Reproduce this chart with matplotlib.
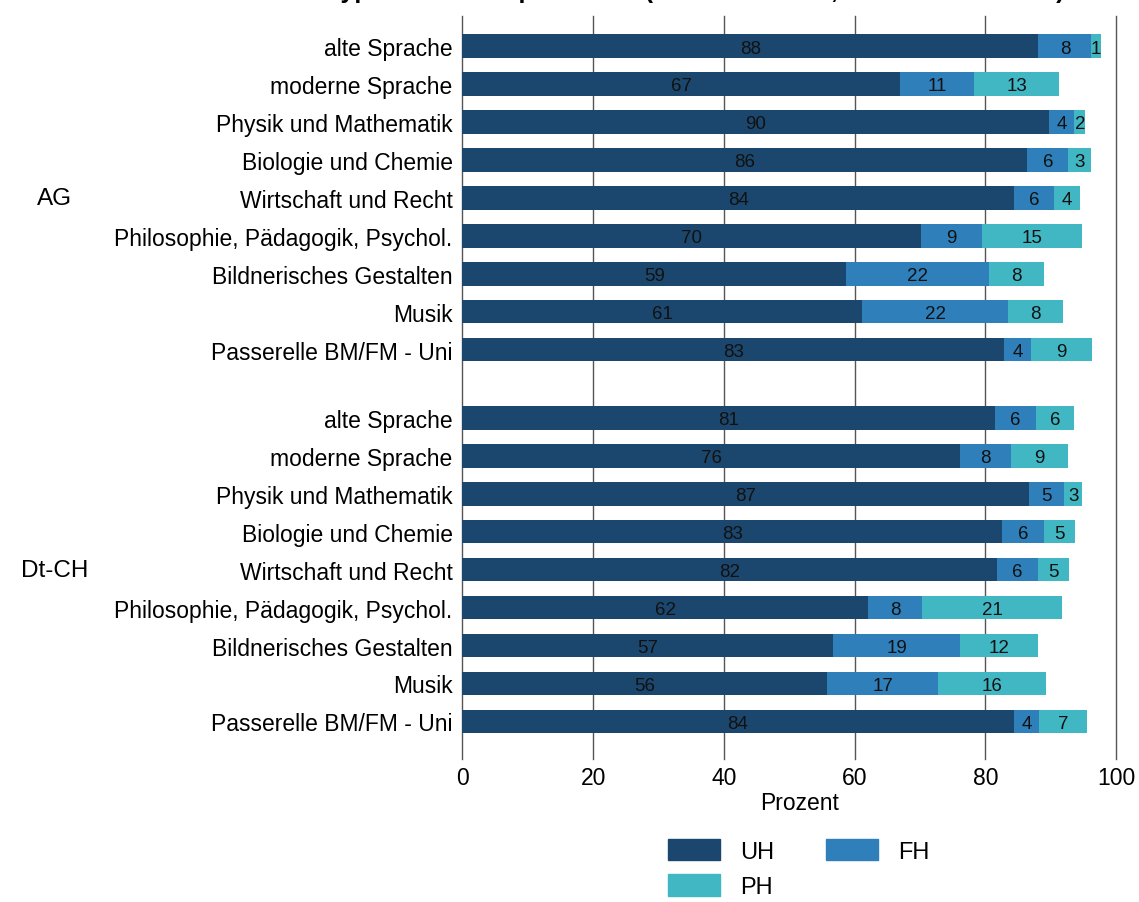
import numpy as np
import matplotlib.pyplot as plt
from matplotlib.patches import Patch

plt.rcParams['font.family'] = ['Liberation Sans', 'DejaVu Sans']

'''------ DATA -----'''
categories = ['alte Sprache', 'moderne Sprache', 'Physik und Mathematik',
              'Biologie und Chemie', 'Wirtschaft und Recht',
              'Philosophie, Pädagogik, Psychol.', 'Bildnerisches Gestalten',
              'Musik', 'Passerelle BM/FM - Uni']
groups = ['AG', 'Dt-CH']
series = ['UH', 'FH', 'PH']

# shares in percent, one list per group (same order as categories)
uh_ag = [88.1, 67.0, 89.7, 86.4, 84.4, 70.1, 58.7, 61.1, 82.9]
fh_ag = [8.1, 11.3, 3.9, 6.3, 6.1, 9.4, 21.8, 22.4, 4.1]
ph_ag = [1.4, 12.9, 1.7, 3.4, 3.9, 15.3, 8.4, 8.4, 9.3]

uh_ch = [81.4, 76.1, 86.7, 82.6, 81.7, 62.0, 56.7, 55.8, 84.3]
fh_ch = [6.4, 7.8, 5.3, 6.4, 6.3, 8.3, 19.4, 17.0, 3.9]
ph_ch = [5.8, 8.8, 2.8, 4.7, 4.8, 21.4, 11.9, 16.4, 7.4]

colors = ['#1b476e', '#2e7fba', '#41b7c4']
title = 'Übertritte nach Hochschultyp und Schwerpunktfach (AG: 2010–2014, Dt-CH: 2010–2014)'

'''------ PLOT -----'''
fig = plt.figure(figsize=(11.39, 9.03), dpi=100)
ax = fig.add_axes([0.406, 0.158, 0.574, 0.823])

n = len(categories)
gap = 0.8
pos = np.concatenate([np.arange(n), np.arange(n) + n + gap])
uh = np.array(uh_ag + uh_ch)
fh = np.array(fh_ag + fh_ch)
ph = np.array(ph_ag + ph_ch)

left = np.zeros(len(pos))
for vals, col in zip([uh, fh, ph], colors):
    bars = ax.barh(pos, vals, left=left, height=0.62, color=col, zorder=2)
    for b, v in zip(bars, vals):
        ax.text(b.get_x() + b.get_width() / 2, b.get_y() + b.get_height() / 2 + 0.05,
                f'{v:.0f}', ha='center', va='center', fontsize=13.5, color='#111111', zorder=3)
    left = left + vals

ax.set_xlim(0, 100)
ax.set_ylim(pos[-1] + 1.0, -0.79)
ax.set_xticks([0, 20, 40, 60, 80, 100])
ax.set_yticks(pos)
ax.set_yticklabels(categories * 2)
ax.tick_params(axis='both', length=0, labelsize=16.5)
ax.tick_params(axis='y', pad=7)
ax.tick_params(axis='x', pad=5)
ax.grid(True, axis='x', color='#555555', linewidth=1.0, zorder=0)
for gl in ax.get_xgridlines():
    gl.set_clip_on(False)
for s in ax.spines.values():
    s.set_visible(False)

ax.set_xlabel('Prozent', fontsize=16.5)
ax.xaxis.set_label_coords(0.516, -0.043)

# group labels
for g, p in zip(groups, [pos[4], pos[n + 4]]):
    y = ax.transData.transform((0, p))[1]
    fig.text(55 / 1139, fig.transFigure.inverted().transform((0, y))[1], g,
             ha='center', va='center', fontsize=17.5)

handles = [Patch(color=colors[0], label='UH'), Patch(color=colors[2], label='PH'),
           Patch(color=colors[1], label='FH')]
fig.legend(handles=handles, ncol=2, loc='upper left', bbox_to_anchor=(668 / 1139, 1 - 840 / 903),
           frameon=False, fontsize=17, handlelength=2.2, handleheight=1.0,
           handletextpad=0.85, columnspacing=2.2, labelspacing=0.5,
           borderpad=0, borderaxespad=0)

# title sits mostly above the figure edge, as in the source image
fig.text(20 / 1139, 1 + 2 / 903, title, ha='left', va='baseline',
         fontsize=18, fontweight='bold')

fig.savefig('out.png', dpi=100)
